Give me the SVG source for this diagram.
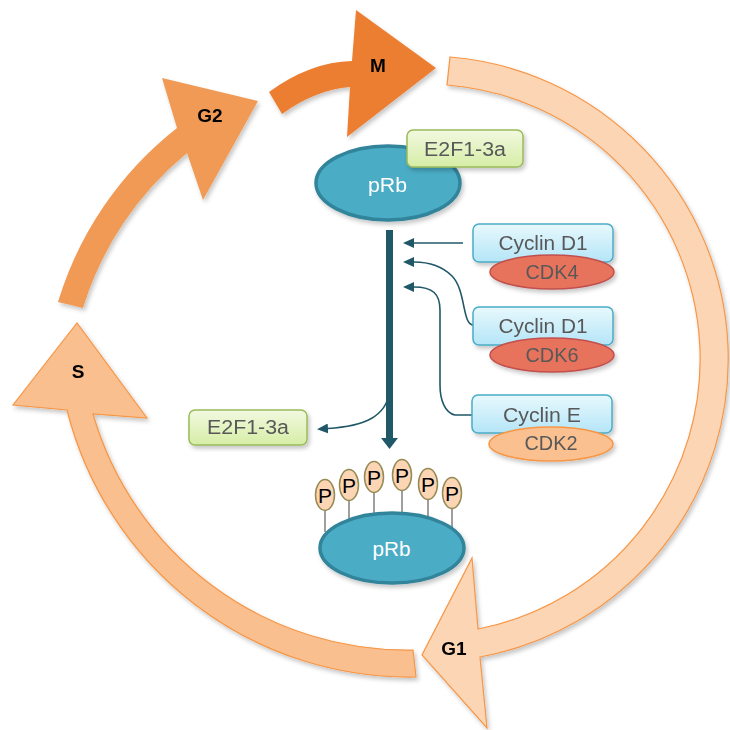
<svg xmlns="http://www.w3.org/2000/svg" width="730" height="730" viewBox="0 0 730 730">
<defs>
<filter id="sh" x="-20%" y="-20%" width="140%" height="140%">
<feDropShadow dx="2" dy="3" stdDeviation="2" flood-color="#000" flood-opacity="0.22"/>
</filter>
<linearGradient id="gGreen" x1="0" y1="0" x2="0" y2="1">
<stop offset="0" stop-color="#F2F9E0"/><stop offset="1" stop-color="#D6EDA6"/>
</linearGradient>
<linearGradient id="gCyan" x1="0" y1="0" x2="0" y2="1">
<stop offset="0" stop-color="#E8F8FD"/><stop offset="1" stop-color="#B4E5F7"/>
</linearGradient>
<marker id="ah" markerUnits="userSpaceOnUse" markerWidth="11" markerHeight="10" refX="0" refY="5" orient="auto">
<path d="M0,0 L11,5 L0,10 Z" fill="#205868"/>
</marker>
<marker id="ahBig" markerUnits="userSpaceOnUse" markerWidth="12" markerHeight="18" refX="0" refY="9" orient="auto">
<path d="M0,0.5 L11,9 L0,17.5 Z" fill="#205868"/>
</marker>
<style>
.phase{font-family:"Liberation Sans",Arial,sans-serif;font-weight:bold;font-size:19px;fill:#000;text-anchor:middle}
.lbl{font-family:"Liberation Sans",Arial,sans-serif;font-size:20px;fill:#595959;text-anchor:middle}
.prb{fill:#4BACC6;stroke:#31849B;stroke-width:3.5}
.prbt{font-family:"Liberation Sans",Arial,sans-serif;font-size:20px;fill:#fff;text-anchor:middle}
.green{fill:url(#gGreen);stroke:#9BBB59;stroke-width:1.5}
.cyan{fill:url(#gCyan);stroke:#4BACC6;stroke-width:1.5}
.cdkr{fill:#E8735C;stroke:#C0504D;stroke-width:1.5}
.cdko{fill:#FAC090;stroke:#F79646;stroke-width:1.5}
.p{fill:#FCD5B4;stroke:#948A54;stroke-width:1.5}
.pt{font-family:"Liberation Sans",Arial,sans-serif;font-size:21px;fill:#000;text-anchor:middle}
.stem{stroke:#7F7F7F;stroke-width:1.5}
.con{fill:none;stroke:#205868;stroke-width:1.6}
</style>
</defs>

<g id="phase-S" filter="url(#sh)">
<path d="M413,650 L416,677 A353,353 0 0 1 67,410 L13,405 L77,323 L147,418 L93,414 A327,327 0 0 0 413,650 Z" fill="#F9BF8E" stroke="#F79646" stroke-width="1.2"/>
<text class="phase" x="78" y="378">S</text>
</g>
<g id="phase-G2" filter="url(#sh)">
<path d="M58,302 A350,350 0 0 1 177,128 L162,78 L258,101 L203,200 L187,153 A325,325 0 0 0 83,308 Z" fill="#F09A55"/>
<text class="phase" x="210" y="122">G2</text>
</g>
<g id="phase-M" filter="url(#sh)">
<path d="M269,92 Q310,62 352,61 L356,10 L436,68 L347,137 L350,87 Q315,90 282,114 Z" fill="#EC7E33"/>
<text class="phase" x="378" y="72">M</text>
</g>
<g id="phase-G1" filter="url(#sh)">
<path d="M450,57 A303,303 0 0 1 480,657 L487,728 L422,655 L472,558 L478,629 A275,275 0 0 0 447,85 Z" fill="#FCD5B4" stroke="#F79646" stroke-width="1.2"/>
<text class="phase" x="454" y="655">G1</text>
</g>

<g id="connectors">
<path d="M389.5,230 L389.5,438" fill="none" stroke="#205868" stroke-width="7" marker-end="url(#ahBig)"/>
<path class="con" d="M463,243 L414,243" marker-end="url(#ah)"/>
<path class="con" d="M473,325 C462,324 466,290 452,276 C442,266 430,262 414,262" marker-end="url(#ah)"/>
<path class="con" d="M472,415 L455,415 C445,413 440,400 440,385 L440,310 C440,294 433,287 414,287" marker-end="url(#ah)"/>
<path class="con" d="M389,393 C386,416 365,426 328,428.5" marker-end="url(#ah)"/>
</g>

<g id="pRb-top" filter="url(#sh)">
<ellipse class="prb" cx="388" cy="183" rx="72" ry="37"/>
<text class="prbt" x="387.5" y="192" textLength="39" lengthAdjust="spacingAndGlyphs">pRb</text>
</g>
<g id="E2F1-top" filter="url(#sh)">
<rect class="green" x="407" y="130" width="116" height="37" rx="6"/>
<text class="lbl" x="465" y="156" textLength="82" lengthAdjust="spacingAndGlyphs">E2F1-3a</text>
</g>

<g id="cyclinD1-CDK4" filter="url(#sh)">
<rect class="cyan" x="473" y="224" width="140" height="38" rx="6"/>
<text class="lbl" x="543" y="250" textLength="89" lengthAdjust="spacingAndGlyphs">Cyclin D1</text>
<ellipse class="cdkr" cx="552" cy="272" rx="62" ry="17"/>
<text class="lbl" x="552" y="279" textLength="53" lengthAdjust="spacingAndGlyphs">CDK4</text>
</g>
<g id="cyclinD1-CDK6" filter="url(#sh)">
<rect class="cyan" x="473" y="307" width="140" height="38" rx="6"/>
<text class="lbl" x="543" y="333" textLength="89" lengthAdjust="spacingAndGlyphs">Cyclin D1</text>
<ellipse class="cdkr" cx="552" cy="355" rx="62" ry="17"/>
<text class="lbl" x="552" y="362" textLength="53" lengthAdjust="spacingAndGlyphs">CDK6</text>
</g>
<g id="cyclinE-CDK2" filter="url(#sh)">
<rect class="cyan" x="472" y="395" width="140" height="38" rx="6"/>
<text class="lbl" x="542" y="422" textLength="78" lengthAdjust="spacingAndGlyphs">Cyclin E</text>
<ellipse class="cdko" cx="551" cy="444" rx="62" ry="17"/>
<text class="lbl" x="551" y="450" textLength="53" lengthAdjust="spacingAndGlyphs">CDK2</text>
</g>

<g id="E2F1-bottom" filter="url(#sh)">
<rect class="green" x="189" y="410" width="118" height="35" rx="6"/>
<text class="lbl" x="248" y="434" textLength="82" lengthAdjust="spacingAndGlyphs">E2F1-3a</text>
</g>

<g id="pRb-phos">
<line class="stem" x1="325" y1="510" x2="325" y2="532"/>
<line class="stem" x1="349" y1="500" x2="349" y2="519"/>
<line class="stem" x1="374" y1="492" x2="374" y2="514"/>
<line class="stem" x1="402" y1="490" x2="402" y2="514"/>
<line class="stem" x1="428" y1="499" x2="428" y2="518"/>
<line class="stem" x1="452" y1="508" x2="452" y2="528"/>
<g filter="url(#sh)">
<ellipse class="prb" cx="392" cy="548" rx="72" ry="35"/>
</g>
<text class="prbt" x="391.5" y="556" textLength="38" lengthAdjust="spacingAndGlyphs">pRb</text>
<ellipse class="p" cx="325" cy="495" rx="9.5" ry="15.5"/>
<ellipse class="p" cx="349" cy="485" rx="9.5" ry="15.5"/>
<ellipse class="p" cx="374" cy="477" rx="9.5" ry="15.5"/>
<ellipse class="p" cx="402" cy="475" rx="9.5" ry="15.5"/>
<ellipse class="p" cx="428" cy="484" rx="9.5" ry="15.5"/>
<ellipse class="p" cx="452" cy="493" rx="9.5" ry="15.5"/>
<text class="pt" x="325" y="503">P</text>
<text class="pt" x="349" y="493">P</text>
<text class="pt" x="374" y="485">P</text>
<text class="pt" x="402" y="483">P</text>
<text class="pt" x="428" y="492">P</text>
<text class="pt" x="452" y="501">P</text>
</g>
</svg>
